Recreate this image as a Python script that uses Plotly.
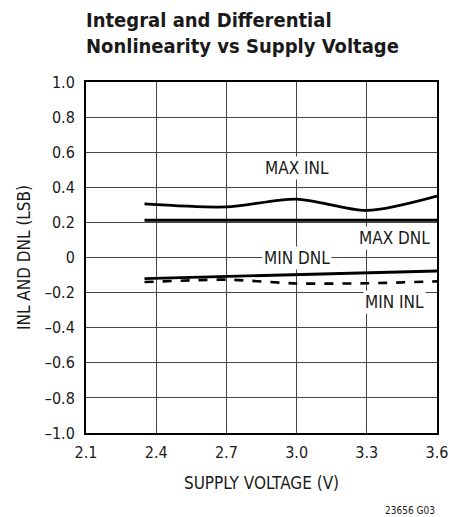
import plotly.graph_objects as go

# Data
vdd = [2.35, 2.7, 3.0, 3.3, 3.6]
max_inl = [0.305, 0.288, 0.333, 0.268, 0.35]
max_dnl = [0.212, 0.212, 0.212, 0.212, 0.212]
min_dnl = [-0.12, -0.107, -0.097, -0.087, -0.077]
min_inl = [-0.14, -0.126, -0.148, -0.147, -0.136]

x_ticks = [2.1, 2.4, 2.7, 3.0, 3.3, 3.6]
x_ticktext = ["2.1", "2.4", "2.7", "3.0", "3.3", "3.6"]
y_ticks = [1.0, 0.8, 0.6, 0.4, 0.2, 0, -0.2, -0.4, -0.6, -0.8, -1.0]
y_ticktext = ["1.0", "0.8", "0.6", "0.4", "0.2", "0", "\u20130.2", "\u20130.4", "\u20130.6", "\u20130.8", "\u20131.0"]

FONT = "DejaVu Sans Condensed, Liberation Sans Narrow, Arial Narrow, sans-serif"
TXT = "#1a1a1a"

fig = go.Figure()
fig.add_trace(go.Scatter(x=vdd, y=max_inl, mode="lines", line=dict(color="black", width=2.8, shape="spline", smoothing=0.8)))
fig.add_trace(go.Scatter(x=vdd, y=max_dnl, mode="lines", line=dict(color="black", width=3)))
fig.add_trace(go.Scatter(x=vdd, y=min_dnl, mode="lines", line=dict(color="black", width=2.8)))
fig.add_trace(go.Scatter(x=vdd, y=min_inl, mode="lines", line=dict(color="black", width=2.6, dash="dash", shape="spline", smoothing=0.6)))

labels = [("MAX INL", 3.0, 0.51), ("MAX DNL", 3.42, 0.11), ("MIN DNL", 3.0, 0.0), ("MIN INL", 3.42, -0.255)]
for t, x, y in labels:
    fig.add_annotation(x=x, y=y, text=t, showarrow=False, bgcolor="white",
                       font=dict(family=FONT, size=17, color=TXT), borderpad=1)

fig.add_annotation(xref="paper", yref="paper", x=-0.005, y=1.0, yshift=76, xanchor="left", yanchor="top",
                   text="<b>Integral and Differential<br>Nonlinearity vs Supply Voltage</b>",
                   showarrow=False, align="left",
                   font=dict(family=FONT, size=20, color=TXT))
fig.add_annotation(xref="paper", yref="paper", x=1.0, y=0, yshift=-70, xanchor="right", yanchor="top",
                   text="23656 G03", showarrow=False, font=dict(family=FONT, size=10, color=TXT))

axis_common = dict(showgrid=True, gridcolor="#444", gridwidth=1, zeroline=False,
                   showline=True, linecolor="black", linewidth=2, mirror=True,
                   ticks="", tickfont=dict(family=FONT, size=16, color=TXT))
fig.update_xaxes(range=[2.1, 3.6], tickvals=x_ticks, ticktext=x_ticktext, ticklabelstandoff=4,
                 title=dict(text="SUPPLY VOLTAGE (V)", font=dict(family=FONT, size=17, color=TXT), standoff=16),
                 **axis_common)
fig.update_yaxes(range=[-1.0, 1.0], tickvals=y_ticks, ticktext=y_ticktext, ticklabelstandoff=6,
                 title=dict(text="INL AND DNL (LSB)", font=dict(family=FONT, size=17, color=TXT), standoff=10),
                 **axis_common)

fig.update_layout(width=456, height=509, margin=dict(l=78, r=27, t=74, b=84),
                  plot_bgcolor="white", paper_bgcolor="white", showlegend=False)

fig.write_html("out.html")
